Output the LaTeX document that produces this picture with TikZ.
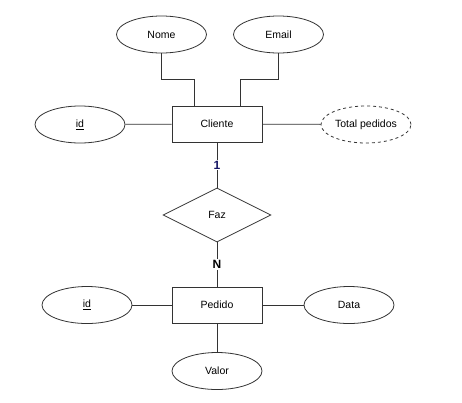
\documentclass[tikz,border=0pt]{standalone}
\usepackage{fontspec}
\setmainfont{Liberation Sans}
\usetikzlibrary{shapes.geometric}
\definecolor{azulescuro}{RGB}{20,20,100}

\begin{document}
\begin{tikzpicture}[x=1pt,y=-1pt,line width=0.8pt,
	font=\fontsize{10.5}{12}\selectfont,
	entidade/.style={draw=black!80, rectangle, minimum width=90pt, minimum height=36pt, inner sep=0pt},
	atributo/.style={draw=black!80, ellipse, minimum width=90pt, minimum height=37pt, inner sep=0pt},
	relacao/.style={draw=black!80, diamond, aspect=2, minimum width=108pt, minimum height=54pt, inner sep=0pt},
	card/.style={fill=white, inner sep=1pt, font=\bfseries\fontsize{12}{13}\selectfont}]
	\useasboundingbox (0,0) rectangle (462,402);

	\node[entidade] (cliente) at (217,124) {Cliente};
	\node[entidade] (pedido) at (217,305) {Pedido};
	\node[relacao] (faz) at (217,215) {Faz};

	\node[atributo] (nome) at (161.5,34.5) {Nome};
	\node[atributo] (email) at (278.5,34.5) {Email};
	\node[atributo] (idcliente) at (80,124.5) {\underline{id}};
	\node[atributo, dashed] (total) at (366,124.5) {Total pedidos};
	\node[atributo] (idpedido) at (87,305) {\underline{id}};
	\node[atributo] (data) at (349,305) {Data};
	\node[atributo] (valor) at (217,371) {Valor};

	\begin{scope}[draw=black!80]
		\draw (nome.south) -- ++(0,26) -| ([xshift=23pt]cliente.north west);
		\draw (email.south) -- ++(0,26) -| ([xshift=-22pt]cliente.north east);
		\foreach \a/\b in {idcliente/cliente, cliente/total, idpedido/pedido, pedido/data, pedido/valor}{
			\draw (\a) -- (\b);
		}
		\draw (cliente) -- node[card, text=azulescuro]{1} (faz);
		\draw (faz) -- node[card]{N} (pedido);
	\end{scope}
\end{tikzpicture}
\end{document}
